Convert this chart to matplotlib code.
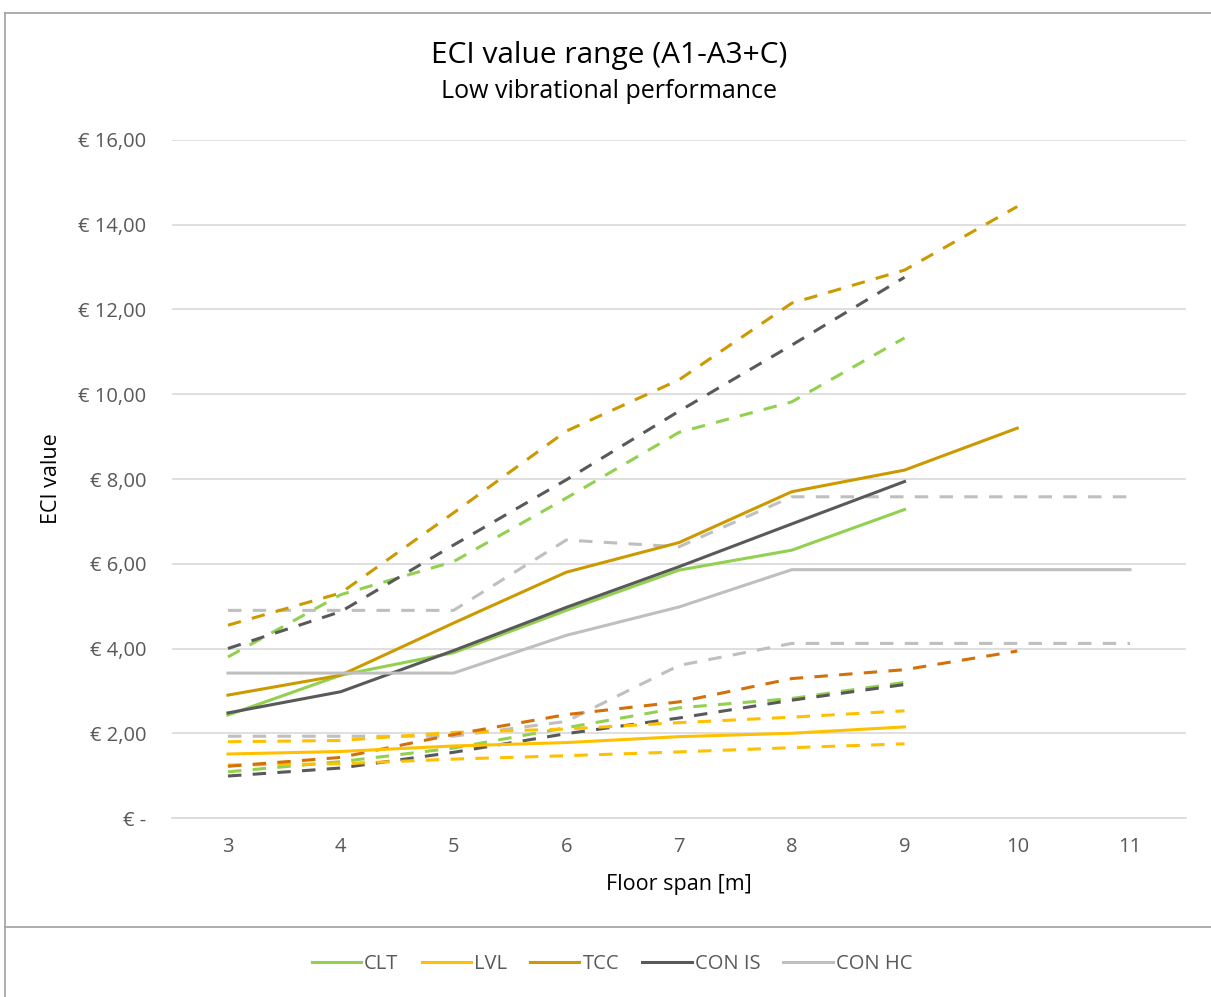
import matplotlib
matplotlib.use("Agg")
import matplotlib.pyplot as plt
from matplotlib.lines import Line2D

plt.rcParams['font.family'] = ['Open Sans', 'DejaVu Sans']

# floor spans (category axis)
spans = [3, 4, 5, 6, 7, 8, 9, 10, 11]

# ECI values, mid = solid line, high/low = dashed range
clt_mid = [2.43, 3.37, 3.90, 4.90, 5.85, 6.32, 7.28]
clt_high = [3.80, 5.27, 6.05, 7.55, 9.10, 9.82, 11.33]
clt_low = [1.09, 1.33, 1.65, 2.13, 2.60, 2.82, 3.20]

lvl_mid = [1.51, 1.57, 1.70, 1.78, 1.92, 2.00, 2.15]
lvl_high = [1.80, 1.83, 2.02, 2.10, 2.25, 2.38, 2.53]
lvl_low = [1.25, 1.28, 1.39, 1.47, 1.56, 1.66, 1.75]

tcc_mid = [2.90, 3.37, 4.60, 5.80, 6.50, 7.70, 8.21, 9.20]
tcc_high = [4.55, 5.31, 7.20, 9.13, 10.34, 12.15, 12.93, 14.43]
tcc_low = [1.22, 1.43, 1.97, 2.44, 2.74, 3.29, 3.50, 3.94]

conis_mid = [2.48, 2.98, 3.95, 4.97, 5.93, 6.94, 7.94]
conis_high = [4.00, 4.87, 6.44, 7.98, 9.60, 11.16, 12.76]
conis_low = [0.99, 1.18, 1.55, 1.99, 2.36, 2.78, 3.15]

conhc_mid = [3.42, 3.42, 3.42, 4.31, 4.98, 5.86, 5.86, 5.86, 5.86]
conhc_high = [4.90, 4.90, 4.90, 6.56, 6.40, 7.58, 7.58, 7.58, 7.58]
conhc_low = [1.93, 1.93, 1.93, 2.28, 3.60, 4.12, 4.12, 4.12, 4.12]

yticks = [0, 2, 4, 6, 8, 10, 12, 14, 16]
ylabels = ['€ -', '€ 2,00', '€ 4,00', '€ 6,00', '€ 8,00',
           '€ 10,00', '€ 12,00', '€ 14,00', '€ 16,00']

c_clt = '#92D050'
c_lvl = '#FFC000'
c_tcc = '#CC9900'
c_tcc_low = '#D4700A'
c_conis = '#595959'
c_conhc = '#BFBFBF'

W, H = 1211, 997
fig = plt.figure(figsize=(W / 100, H / 100), dpi=100)
ax = fig.add_axes([171.6 / W, 1 - 818 / H, 1014.8 / W, 678 / H])

lw = 2.2
dash = (4.4, 3.7)

# dashed range lines first
dashed = [
    (clt_high, c_clt), (clt_low, c_clt),
    (conhc_high, c_conhc), (conhc_low, c_conhc),
    (conis_high, c_conis), (conis_low, c_conis),
    (lvl_high, c_lvl), (lvl_low, c_lvl),
    (tcc_high, c_tcc), (tcc_low, c_tcc_low),
]
for vals, col in dashed:
    ax.plot(spans[:len(vals)], vals, color=col, lw=lw, linestyle=(0, dash))

# solid lines on top
solid = [
    (clt_mid, c_clt, 'CLT'),
    (lvl_mid, c_lvl, 'LVL'),
    (tcc_mid, c_tcc, 'TCC'),
    (conis_mid, c_conis, 'CON IS'),
    (conhc_mid, c_conhc, 'CON HC'),
]
handles = []
for vals, col, name in solid:
    h, = ax.plot(spans[:len(vals)], vals, color=col, lw=lw, label=name)
    handles.append(h)

ax.set_xlim(2.5, 11.5)
ax.set_ylim(0, 16)
ax.set_xticks(spans)
ax.set_xticklabels([str(s) for s in spans])
ax.set_yticks(yticks)
ax.set_yticklabels(ylabels)
ax.tick_params(axis='both', length=0, labelsize=14.5, labelcolor='#595959')
ax.tick_params(axis='y', pad=18)
ax.tick_params(axis='x', pad=14)
ax.grid(True, axis='y', color='#D9D9D9', lw=1.2)
ax.set_axisbelow(True)
for s in ['top', 'right', 'left']:
    ax.spines[s].set_visible(False)
ax.spines['bottom'].set_color('#D9D9D9')
ax.spines['bottom'].set_linewidth(1.2)

ax.set_xlabel('Floor span [m]', fontsize=15.5, color='#000000', va='center')
ax.xaxis.set_label_coords(0.5, -(884 - 818) / 678)
ax.set_ylabel('ECI value', fontsize=15.5, color='#000000', va='center')
ax.yaxis.set_label_coords((52 - 171.6) / 1014.8, 0.5)

fig.text(609 / W, 1 - 55 / H, 'ECI value range (A1-A3+C)', fontsize=21.5,
         ha='center', va='center', color='#000000')
fig.text(609 / W, 1 - 92 / H, 'Low vibrational performance', fontsize=18,
         ha='center', va='center', color='#000000')

fig.legend(handles=handles, loc='center', bbox_to_anchor=(612 / W, 1 - 964 / H),
           ncol=5, frameon=False, fontsize=14.5, labelcolor='#595959',
           handlelength=2.45, handletextpad=0.15, columnspacing=1.15)

# chart frame and legend separator
border = '#A0A0A0'
fig.add_artist(Line2D([5 / W, 5 / W], [0, 1 - 13 / H], color=border, lw=1.2))
fig.add_artist(Line2D([5 / W, 1], [1 - 13 / H, 1 - 13 / H], color=border, lw=1.2))
fig.add_artist(Line2D([5 / W, 1], [1 - 927 / H, 1 - 927 / H], color=border, lw=1.2))

fig.savefig('out.png', dpi=100)
